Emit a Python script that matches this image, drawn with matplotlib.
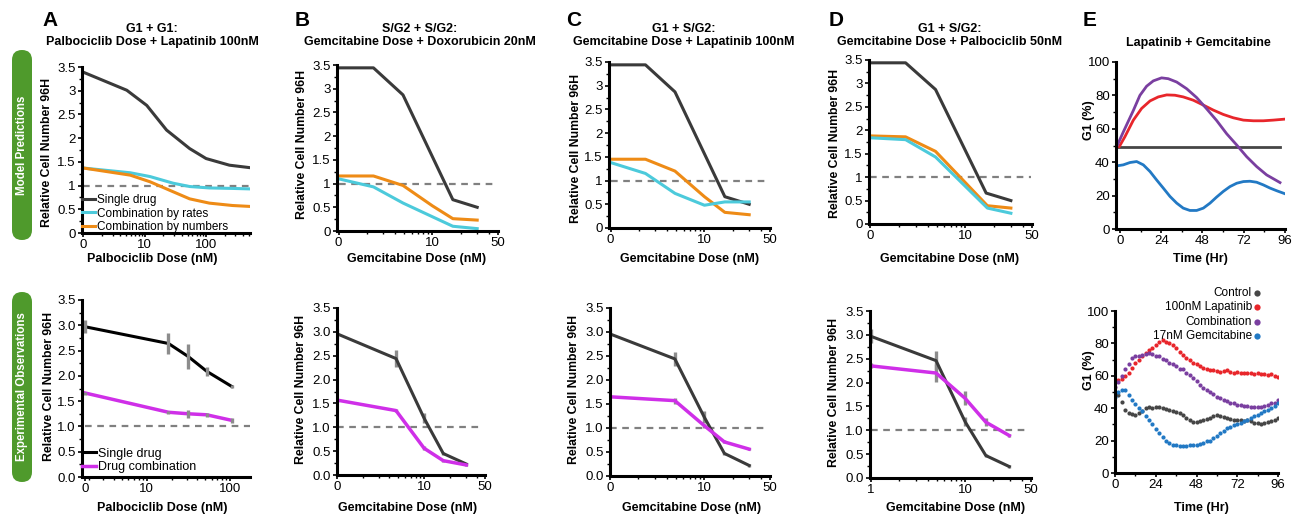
import numpy as np
import matplotlib
matplotlib.use('Agg')
import matplotlib.pyplot as plt
from matplotlib.patches import FancyBboxPatch
from matplotlib.ticker import MultipleLocator, NullFormatter, FormatStrFormatter, LogLocator

plt.rcParams['font.family'] = ['Liberation Sans', 'DejaVu Sans']

W, H = 1298, 516

# --- couleurs ---
C_SINGLE = '#3a3a3a'
C_RATES = '#4ccadb'
C_NUMBERS = '#ee8b16'
C_COMBO = '#cf2fe8'
C_ERR = '#8c8c8c'
C_DASH = '#808080'
C_GREEN = '#4f9a2c'
E_CTRL = '#464646'
E_LAP = '#e8262b'
E_COMB = '#7a3fa0'
E_GEM = '#2279c4'

REF_LEVEL = 1.0

# ---------------- Model predictions (top row) ----------------
A_dose_single = [1, 5.1, 10.8, 22.7, 54, 100, 240, 500]
A_single = [3.39, 3.01, 2.69, 2.17, 1.78, 1.57, 1.43, 1.38]
A_dose_combo = [1, 5.8, 12.2, 29, 54, 113, 268, 520]
A_rates = [1.37, 1.27, 1.19, 1.05, 0.98, 0.95, 0.94, 0.93]
A_numbers = [1.37, 1.22, 1.08, 0.87, 0.72, 0.63, 0.58, 0.56]

G_dose_single = [1, 2.35, 4.85, 16.5, 30]
G_single = [3.44, 3.44, 2.87, 0.66, 0.50]
G_dose_combo = [1, 2.35, 4.85, 10, 16.5, 30]

B_rates = [1.10, 0.93, 0.59, 0.30, 0.10, 0.05]
B_numbers = [1.16, 1.16, 0.96, 0.53, 0.26, 0.23]

C_rates = [1.38, 1.15, 0.73, 0.48, 0.55, 0.55]
C_numbers = [1.45, 1.45, 1.20, 0.66, 0.33, 0.28]

D_dose_combo = [1, 2.35, 4.85, 17, 30]
D_rates = [1.84, 1.80, 1.43, 0.34, 0.23]
D_numbers = [1.88, 1.86, 1.55, 0.39, 0.34]

# E top: modelled G1 fraction (hours, %)
E_ctrl_t = [-2, 93]
E_ctrl = [49.3, 49.3]
E_lap_t = [-0.4, 2.9, 7.8, 12.6, 17.5, 22.3, 27.2, 32, 36.8, 42.7, 48.5, 54.3, 60.1, 65.9, 71.8, 77.6, 83.4, 89.2, 96]
E_lap = [49.3, 55.3, 65.2, 72.2, 76.7, 79.1, 80.3, 80.1, 79.1, 77.1, 74.2, 71.2, 68.6, 66.6, 65.2, 64.8, 64.8, 65.2, 65.8]
E_comb_t = [-1.9, 1.9, 7.8, 11.6, 15.5, 19.4, 24.2, 28.1, 33, 38.8, 44.6, 50.4, 56.2, 62.1, 67.9, 73.7, 79.5, 85.3, 93.1]
E_comb = [49.3, 58, 71, 80, 85.5, 88.7, 90.5, 90, 88, 84, 78.7, 72, 65, 57, 50.3, 43.3, 37.4, 32.4, 27.8]
E_gem_t = [-1.9, 1.9, 5.8, 9.7, 13.6, 17.5, 21.3, 25.2, 29.1, 33, 36.8, 40.7, 44.6, 48.5, 52.4, 56.2, 60.1,
           64, 67.9, 71.8, 75.6, 79.5, 83.4, 87.3, 91.2, 96]
E_gem = [37.8, 38.4, 39.8, 40.4, 38.4, 34.4, 29.4, 24.5, 19.5, 15.5, 12.5, 11.1, 11.1, 12.5, 15.5, 19.1, 22.5,
         25.4, 27.4, 28.4, 28.6, 28, 26.4, 24.5, 22.9, 21.1]

# ---------------- Experimental observations (bottom row) ----------------
Ax_dose = [1.82, 18.2, 31.6, 52.5, 105]
Ax_single = [2.97, 2.64, 2.38, 2.09, 1.79]
Ax_single_err = [0.13, 0.20, 0.25, 0.09, 0.03]
Ax_combo = [1.66, 1.28, 1.25, 1.23, 1.12]
Ax_combo_err = [0.03, 0.03, 0.08, 0.04, 0.05]

Bx_dose = [1, 4.76, 10, 16.6, 30.5]
Bx_single = [2.96, 2.44, 1.19, 0.45, 0.23]
Bx_single_err = [0.10, 0.18, 0.10, 0.03, 0.03]
Bx_combo = [1.57, 1.35, 0.56, 0.30, 0.21]
Bx_combo_err = [0.03, 0.03, 0.04, 0.02, 0.02]

Cx_dose = [1, 4.88, 10, 16.4, 30]
Cx_single = [2.96, 2.44, 1.23, 0.47, 0.22]
Cx_single_err = [0.10, 0.15, 0.12, 0.03, 0.03]
Cx_combo = [1.65, 1.57, 1.05, 0.71, 0.56]
Cx_combo_err = [0.03, 0.06, 0.04, 0.03, 0.02]

Dx_dose = [1, 4.92, 10, 16.6, 29.4]
Dx_single = [2.97, 2.46, 1.18, 0.47, 0.24]
Dx_single_err = [0.15, 0.20, 0.10, 0.03, 0.03]
Dx_combo = [2.35, 2.20, 1.67, 1.17, 0.89]
Dx_combo_err = [0.05, 0.18, 0.15, 0.08, 0.04]

# E bottom: measured G1 fraction, every 2 h
T_E = [0, 2, 4, 6, 8, 10, 12, 14, 16, 18, 20, 22, 24, 26, 28, 30, 32, 34, 36, 38, 40, 42, 44, 46, 48,
       50, 52, 54, 56, 58, 60, 62, 64, 66, 68, 70, 72, 74, 76, 78, 80, 82, 84, 86, 88, 90, 92, 94, 96]
obs_ctrl = [50, 48, 44, 39, 37, 36.5, 36, 37, 38.5, 40, 40.5, 40, 40.5, 41, 40, 39.5, 39, 38.5, 37.5, 37,
            35.5, 34, 32.5, 31.5, 31.5, 32, 33, 33.5, 34, 35, 35.5, 35, 34.5, 34, 33.5, 33, 33, 32.5, 32,
            32.5, 32, 31, 31, 30.5, 31, 31.5, 32, 33, 34]
obs_lap = [56, 57.5, 58, 60, 62, 65, 68, 70, 72, 74, 76, 77, 79, 81, 82, 81, 80.5, 79, 77, 75, 73, 71, 69.5,
           68, 67, 66, 65, 64, 63.5, 63.5, 63, 62.5, 63, 63.5, 62.5, 62, 62.5, 62, 61.5, 61.5, 61.5, 61,
           61.5, 61, 61, 60.5, 61, 60, 59.5]
obs_comb = [53, 56, 60, 64, 67.5, 71, 72, 72.5, 73, 73.5, 74, 73.5, 72.5, 72, 70.5, 69.5, 68, 67, 66, 64.5,
            64, 62, 60.5, 58.5, 56.5, 54.5, 52.5, 51, 50, 48.5, 47, 46, 45, 44.5, 43.5, 43, 42, 42, 41.5,
            41.5, 40.5, 40.5, 40.5, 41, 41.5, 42, 43, 43.5, 45]
obs_gem = [47, 50, 51.5, 51, 48, 45, 42.5, 40, 38, 35, 33, 30, 27, 24.5, 22, 20, 18.5, 17.5, 17, 16.5, 16.5,
           16.5, 17, 17, 17.5, 18, 18.5, 19.5, 20, 21.5, 23, 24.5, 26, 27.5, 28.5, 29.5, 30, 31, 32, 33, 34,
           35, 36, 37, 38, 39, 40, 41.5, 43]

fig = plt.figure(figsize=(W / 100, H / 100), dpi=100)

# calque de fond en pixels pour les textes et bandeaux
bg = fig.add_axes([0, 0, 1, 1])
bg.set_xlim(0, W)
bg.set_ylim(H, 0)
bg.axis('off')


def make_ax(l, t, r, b):
    return fig.add_axes([l / W, 1 - b / H, (r - l) / W, (b - t) / H])


def style_ax(ax):
    for s in ['top', 'right']:
        ax.spines[s].set_visible(False)
    for s in ['left', 'bottom']:
        ax.spines[s].set_linewidth(2.2)
    ax.tick_params(which='major', length=3, width=1.2, labelsize=9.5, pad=1.5, color='black')
    ax.tick_params(which='minor', length=2, width=1.0, color='black')
    ax.patch.set_alpha(0)


def dose_axis(ax, xlim, ticks, labels, fmt):
    ax.set_xscale('log')
    ax.set_xlim(*xlim)
    ax.set_xticks(ticks)
    ax.set_xticklabels(labels)
    ax.xaxis.set_minor_locator(LogLocator(base=10, subs=np.arange(2, 10)))
    ax.xaxis.set_minor_formatter(NullFormatter())
    ax.set_ylim(0, 3.5)
    ax.set_yticks(np.arange(0, 3.51, 0.5))
    ax.yaxis.set_minor_locator(MultipleLocator(0.25))
    if fmt:
        ax.yaxis.set_major_formatter(FormatStrFormatter('%.1f'))
    else:
        ax.set_yticklabels(['0', '0.5', '1', '1.5', '2', '2.5', '3', '3.5'])
    style_ax(ax)


def time_axis(ax, xlim):
    ax.set_xlim(*xlim)
    ax.set_ylim(0, 100)
    ax.set_xticks([0, 24, 48, 72, 96])
    ax.xaxis.set_minor_locator(MultipleLocator(12))
    ax.set_yticks([0, 20, 40, 60, 80, 100])
    ax.yaxis.set_minor_locator(MultipleLocator(10))
    style_ax(ax)


# ---------- top row ----------
axA = make_ax(82, 67, 250, 233)
dose_axis(axA, (0.95, 520), [1, 10, 100], ['0', '10', '100'], False)
axA.hlines(REF_LEVEL, 1, 520, colors=C_DASH, linestyles=(0, (3, 2.5)), lw=1.6)
axA.plot(A_dose_single, A_single, color=C_SINGLE, lw=2.2, label='Single drug')
axA.plot(A_dose_combo, A_rates, color=C_RATES, lw=2.2, label='Combination by rates')
axA.plot(A_dose_combo, A_numbers, color=C_NUMBERS, lw=2.2, label='Combination by numbers')
axA.legend(loc='lower left', bbox_to_anchor=(0.0, 0.0), frameon=False, fontsize=8.5, borderpad=0,
           labelspacing=0.12, handlelength=1.1, handletextpad=0.2, borderaxespad=0)

axB = make_ax(337, 65, 498, 231)
dose_axis(axB, (0.96, 50), [1, 10, 50], ['0', '10', '50'], False)
axB.hlines(REF_LEVEL, 1, 46, colors=C_DASH, linestyles=(0, (3, 2.5)), lw=1.6)
axB.plot(G_dose_single, G_single, color=C_SINGLE, lw=2.2)
axB.plot(G_dose_combo, B_numbers, color=C_NUMBERS, lw=2.2)
axB.plot(G_dose_combo, B_rates, color=C_RATES, lw=2.2)

axC = make_ax(609, 62, 770, 228)
dose_axis(axC, (0.96, 50), [1, 10, 50], ['0', '10', '50'], False)
axC.hlines(REF_LEVEL, 1, 48, colors=C_DASH, linestyles=(0, (3, 2.5)), lw=1.6)
axC.plot(G_dose_single, G_single, color=C_SINGLE, lw=2.2)
axC.plot(G_dose_combo, C_numbers, color=C_NUMBERS, lw=2.2)
axC.plot(G_dose_combo, C_rates, color=C_RATES, lw=2.2)

axD = make_ax(869, 60, 1032, 224)
dose_axis(axD, (0.97, 50), [1, 10, 50], ['0', '10', '50'], False)
axD.hlines(REF_LEVEL, 1, 49, colors=C_DASH, linestyles=(0, (3, 2.5)), lw=1.6)
axD.plot(G_dose_single, G_single, color=C_SINGLE, lw=2.2)
axD.plot(D_dose_combo, D_numbers, color=C_NUMBERS, lw=2.2)
axD.plot(D_dose_combo, D_rates, color=C_RATES, lw=2.2)

axE = make_ax(1116, 62, 1285, 229)
time_axis(axE, (-2.3, 96))
axE.plot(E_ctrl_t, E_ctrl, color=E_CTRL, lw=2)
axE.plot(E_lap_t, E_lap, color=E_LAP, lw=2)
axE.plot(E_comb_t, E_comb, color=E_COMB, lw=2)
axE.plot(E_gem_t, E_gem, color=E_GEM, lw=2)

# ---------- bottom row ----------
def obs_panel(ax, dose, single, s_err, combo, c_err, single_color):
    ax.errorbar(dose, single, yerr=s_err, color=single_color, ecolor=C_ERR, elinewidth=2.4, capsize=0, lw=2.2)
    ax.errorbar(dose, combo, yerr=c_err, color=C_COMBO, ecolor=C_ERR, elinewidth=2.4, capsize=0, lw=2.5)


axA2 = make_ax(82, 300, 250, 477)
dose_axis(axA2, (1.66, 174), [1.82, 10, 100], ['0', '10', '100'], True)
axA2.hlines(REF_LEVEL, 1.82, 174, colors=C_DASH, linestyles=(0, (3, 2.5)), lw=1.6)
axA2.plot(Ax_dose, Ax_single, color='black', lw=2.2, label='Single drug')
axA2.plot(Ax_dose, Ax_combo, color=C_COMBO, lw=2.5, label='Drug combination')
axA2.errorbar(Ax_dose, Ax_single, yerr=Ax_single_err, fmt='none', ecolor=C_ERR, elinewidth=2.4, capsize=0)
axA2.errorbar(Ax_dose, Ax_combo, yerr=Ax_combo_err, fmt='none', ecolor=C_ERR, elinewidth=2.4, capsize=0)
axA2.legend(loc='lower left', bbox_to_anchor=(0.0, 0.02), frameon=False, fontsize=9, borderpad=0,
            labelspacing=0.15, handlelength=1.1, handletextpad=0.2, borderaxespad=0)

axB2 = make_ax(337, 308, 485, 475)
dose_axis(axB2, (1, 50), [1, 10, 50], ['0', '10', '50'], True)
axB2.hlines(REF_LEVEL, 1, 47, colors=C_DASH, linestyles=(0, (3, 2.5)), lw=1.6)
obs_panel(axB2, Bx_dose, Bx_single, Bx_single_err, Bx_combo, Bx_combo_err, C_SINGLE)

axC2 = make_ax(610, 308, 770, 476)
dose_axis(axC2, (1, 50), [1, 10, 50], ['0', '10', '50'], True)
axC2.hlines(REF_LEVEL, 1, 48, colors=C_DASH, linestyles=(0, (3, 2.5)), lw=1.6)
obs_panel(axC2, Cx_dose, Cx_single, Cx_single_err, Cx_combo, Cx_combo_err, C_SINGLE)

axD2 = make_ax(870, 311, 1031, 478)
dose_axis(axD2, (0.98, 50), [1, 10, 50], ['1', '10', '50'], True)
axD2.hlines(REF_LEVEL, 1, 48, colors=C_DASH, linestyles=(0, (3, 2.5)), lw=1.6)
obs_panel(axD2, Dx_dose, Dx_single, Dx_single_err, Dx_combo, Dx_combo_err, C_SINGLE)

axE2 = make_ax(1115, 311, 1278, 473)
time_axis(axE2, (0, 96))
axE2.scatter(T_E, obs_ctrl, s=9, color=E_CTRL, lw=0, label='Control')
axE2.scatter(T_E, obs_lap, s=9, color=E_LAP, lw=0, label='100nM Lapatinib')
axE2.scatter(T_E, obs_comb, s=9, color=E_COMB, lw=0, label='Combination')
axE2.scatter(T_E, obs_gem, s=9, color=E_GEM, lw=0, label='17nM Gemcitabine')
axE2.legend(loc='upper right', bbox_to_anchor=(0.89, 1.15), frameon=False, fontsize=8.5, markerfirst=False,
            markerscale=1.5, borderpad=0, borderaxespad=0, labelspacing=0.22, handlelength=0.6,
            handletextpad=0.1)

# ---------- textes ----------
letters = [('A', 50), ('B', 302), ('C', 574), ('D', 836), ('E', 1090)]
for lab, x in letters:
    bg.text(x, 20, lab, ha='center', va='center', fontsize=15, fontweight='bold')

titles = [(152, 'G1 + G1:', 'Palbociclib Dose + Lapatinib 100nM'),
          (420, 'S/G2 + S/G2:', 'Gemcitabine Dose + Doxorubicin 20nM'),
          (684, 'G1 + S/G2:', 'Gemcitabine Dose + Lapatinib 100nM'),
          (950, 'G1 + S/G2:', 'Gemcitabine Dose + Palbociclib 50nM')]
for x, l1, l2 in titles:
    bg.text(x, 29, l1, ha='center', va='center', fontsize=9, fontweight='bold')
    bg.text(x, 42, l2, ha='center', va='center', fontsize=9, fontweight='bold')
bg.text(1198, 43, 'Lapatinib + Gemcitabine', ha='center', va='center', fontsize=9, fontweight='bold')

xlabels_top = [(152, 'Palbociclib Dose (nM)'), (417, 'Gemcitabine Dose (nM)'), (690, 'Gemcitabine Dose (nM)'),
               (950, 'Gemcitabine Dose (nM)'), (1200, 'Time (Hr)')]
for x, t in xlabels_top:
    bg.text(x, 259, t, ha='center', va='center', fontsize=9, fontweight='bold')
xlabels_bot = [(162, 'Palbociclib Dose (nM)'), (408, 'Gemcitabine Dose (nM)'), (692, 'Gemcitabine Dose (nM)'),
               (956, 'Gemcitabine Dose (nM)'), (1201, 'Time (Hr)')]
for x, t in xlabels_bot:
    bg.text(x, 508, t, ha='center', va='center', fontsize=9, fontweight='bold')

ylab = 'Relative Cell Number 96H'
for x, y in [(47, 152), (302, 144), (576, 148), (835, 143), (49, 386), (301, 389), (574, 389), (834, 392)]:
    bg.text(x, y, ylab, ha='center', va='center', rotation=90, fontsize=8.8, fontweight='bold')
for y in [120, 370]:
    bg.text(1089, y, 'G1 (%)', ha='center', va='center', rotation=90, fontsize=9, fontweight='bold')

# bandeaux verts
for y0, y1, txt in [(50, 240, 'Model Predictions'), (292, 482, 'Experimental Observations')]:
    bg.add_patch(FancyBboxPatch((12, y0), 20, y1 - y0, boxstyle='round,pad=0,rounding_size=10',
                                facecolor=C_GREEN, edgecolor='none'))
    bg.text(22, (y0 + y1) / 2, txt, ha='center', va='center', rotation=90, color='white', fontsize=8.3,
            fontweight='bold')

fig.savefig('out.png', dpi=100)
